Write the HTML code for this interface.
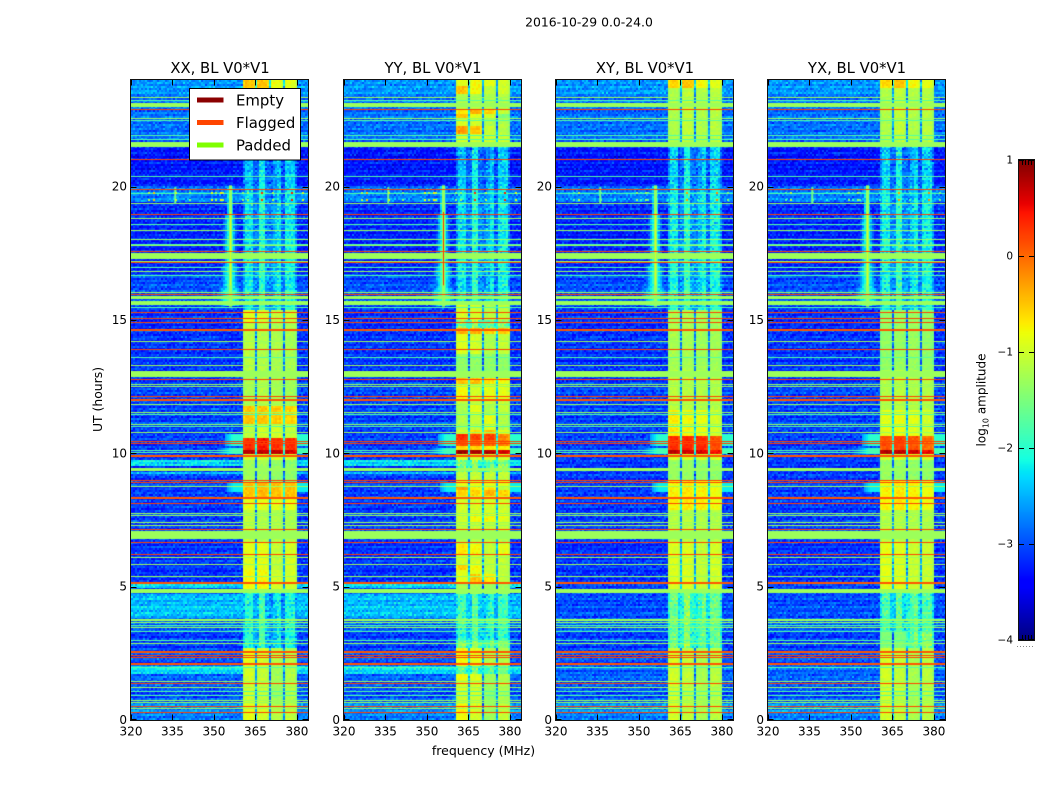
<!DOCTYPE html>
<html lang="en">
<head>
<meta charset="utf-8">
<title>2016-10-29 0.0-24.0</title>
<style>
html,body{margin:0;padding:0;background:#fff;width:1050px;height:800px;overflow:hidden}
#figure{position:relative;width:1050px;height:800px}
canvas{position:absolute;display:block}
svg{position:absolute;left:0;top:0}
text{font-family:"DejaVu Sans","Liberation Sans",sans-serif;fill:#000}
</style>
</head>
<body>
<div id="figure">
<svg id="overlay" width="1050" height="800" viewBox="0 0 1050 800">
  <text x="589" y="26.5" text-anchor="middle" font-size="12.4">2016-10-29 0.0-24.0</text>
  <text x="483.5" y="755" text-anchor="middle" font-size="12.5">frequency (MHz)</text>
  <text transform="translate(102,399.5) rotate(-90)" text-anchor="middle" font-size="12.4">UT (hours)</text>
  <text transform="translate(985.5,400) rotate(-90)" text-anchor="middle" font-size="12">log<tspan font-size="8" dy="3">10</tspan><tspan dy="-3"> amplitude</tspan></text>
  <g id="legend"></g>
</svg>
</div>
<script>
/* ---------- axis labels ---------- */
const panelTitles = ["XX, BL V0*V1", "YY, BL V0*V1", "XY, BL V0*V1", "YX, BL V0*V1"];
const panelLefts = [131, 344, 556, 768];
const freqTicks = [320, 335, 350, 365, 380];
const utTicks = [0, 5, 10, 15, 20];
const colorbarTicks = [1, 0, -1, -2, -3, -4];
const legendLabels = ["Empty", "Flagged", "Padded"];
const legendColors = ["#8b0000", "#ff4500", "#7fff00"];

/* ---------- log10 amplitude readings (hours, hours, level) ---------- */
const flaggedLevel = 0.2;
const paddedLevel = -1.3;
const lightLevel = -1.75;

const paddedBands = [[23.15,22.98],[21.68,21.5],[17.5,17.3],[15.9,15.77],[15.7,15.57],[13.09,12.86],[9.46,9.32],[7.1,6.77],[4.91,4.75],[3.8,3.72]];
const flaggedHours = [22.9,21.03,19.9,18.96,17.57,17.16,15.96,15.29,15.06,14.94,13.91,12.79,12.16,10.47,10.37,9.0,8.92,8.15,7.15,6.66,6.21,5.16,2.44,2.36,1.4,0.52,0.31];
const flaggedThickHours = [14.65,12.04,9.92,8.38,5.16,2.6,2.12];
const paddedThinHours = [23.37,22.56,19.38,18.81,18.36,18.04,17.8,17.22,16.85,16.04,14.22,13.32,12.59,12.52,11.85,11.55,11.1,10.8,8.79,7.78,7.69,7.41,7.33,6.11,5.85,5.4,3.67,3.47,2.87,1.47,1.25,0.75,0.66,0.44];
const lightThinHours = [23.26,22.49,21.93,21.78,20.41,19.75,18.59,17.85,16.97,16.69,15.5,13.6,11.47,11.03,3.56,3.35,3.0,2.0,1.09,0.94];
/* rows that only show outside the bright band */
const outsideBandHours = [10.06,10.14];

const backgroundBands = [[0,0.3,-2.8],[0.3,0.7,-2.7],[0.7,1.5,-3.0],[1.5,1.76,-2.9],[1.76,2.0,-2.9],[2.0,2.7,-3.0],[2.7,3.3,-3.1],[3.3,3.8,-2.9],[3.8,4.75,-3.0],[4.75,5.13,-3.1],[5.13,6.7,-3.15],[6.7,8,-3.1],[8,9.72,-3.1],[9.72,11,-3.1],[11,12.6,-3.05],[12.6,15.5,-3.15],[15.5,16.7,-3.0],[16.7,19.4,-3.2],[19.4,20,-2.75],[20,21.5,-3.3],[21.5,23.4,-2.85],[23.4,24,-2.65]];
/* brighter background rows only seen in the XX and YY panels */
const parallelBands = [[3.8,4.75,-2.45],[4.92,5.13,-2.35],[9.2,9.3,-2.35],[9.52,9.72,-2.25],[1.76,2.0,-2.35]];
const rowSpeckleHours = [19.75,19.5];
const rowSpeckleFreqs = [326,328,336,341,349,350.5,352,353,360,362,367,371,378,382];
const rowSpeckleLevels = [-1.2,-0.5,-1.0,-1.5,-0.8,-1.3,-0.7,-1.1,-1.4,-1.3,0.3,-1.2,0.4,-0.9];

/* four sub-band levels per time segment: start, end, b1, b2, b3, b4 */
const bandXX = [[0,0.6,-0.9,-1.0,-1.2,-1.1],[0.6,2.0,-1.0,-1.1,-1.3,-1.2],[2.0,2.7,-0.9,-1.0,-1.2,-1.2],[2.7,4.9,-2.2,-2.1,-2.3,-2.3],[4.9,5.6,-0.8,-0.8,-1.0,-1.0],[5.6,6.7,-0.9,-0.9,-1.1,-1.0],[6.7,7.9,-1.1,-1.2,-1.2,-1.2],[7.9,8.3,-0.9,-0.9,-0.9,-0.9],[8.3,8.9,-0.5,-0.45,-0.5,-0.5],[8.9,9.72,-1.3,-1.3,-1.4,-1.4],[9.72,9.94,-1.0,-1.0,-1.0,-1.0],[9.94,10.12,0.75,0.7,0.7,0.6],[10.12,10.55,0.3,0.4,0.3,0.3],[10.55,11.1,-1.1,-1.0,-1.0,-1.1],[11.1,11.8,-0.5,-0.5,-0.55,-0.6],[11.8,13.1,-1.25,-1.2,-1.25,-1.3],[13.1,14.9,-1.15,-1.2,-1.25,-1.25],[14.9,15.4,-0.9,-1.0,-1.1,-1.1],[15.4,23.6,-2.35,-2.25,-2.35,-2.35],[23.6,24,-0.5,-0.5,-0.85,-0.9]];
const bandYY = [[0,0.62,-0.8,-1.0,-1.3,-1.1],[0.62,1.52,-1.0,-1.0,-1.4,-1.2],[1.52,1.7,-0.8,-0.9,-1.3,-1.2],[1.7,2.05,-1.8,-1.8,-1.8,-1.8],[2.05,2.7,-0.8,-0.9,-1.2,-1.2],[2.7,3.0,-1.6,-1.6,-1.6,-1.6],[3.0,3.6,-2.1,-2.0,-2.1,-2.1],[3.6,3.8,-1.8,-1.8,-1.9,-1.9],[3.8,4.75,-2.0,-2.0,-2.1,-2.1],[4.75,5.19,-1.3,-1.3,-1.3,-1.3],[5.19,5.44,-0.9,-0.5,-0.7,-1.1],[5.44,5.6,-0.9,-0.9,-1.1,-1.1],[5.6,5.85,-0.6,-0.8,-1.1,-1.1],[5.85,6.25,-1.0,-1.0,-1.1,-1.1],[6.25,6.6,-0.7,-0.8,-1.1,-0.9],[6.6,7.1,-1.2,-1.2,-1.2,-1.2],[7.1,7.45,-1.1,-1.1,-1.1,-1.1],[7.45,7.75,-1.0,-0.8,-0.8,-0.9],[7.75,8.37,-1.0,-1.0,-1.0,-1.0],[8.37,8.65,-0.6,-0.6,-0.4,-0.6],[8.65,8.8,-0.3,-0.7,-0.7,-1.1],[8.8,9.0,-0.9,-0.9,-0.9,-0.9],[9.0,9.3,-1.1,-1.1,-1.1,-1.1],[9.3,9.72,-1.6,-1.6,-1.6,-1.6],[9.72,9.94,-1.0,-1.0,-1.0,-1.0],[9.94,10.12,0.85,0.8,0.75,0.6],[10.12,10.3,-0.6,-0.6,-0.7,-0.7],[10.3,10.47,0.1,0.0,0.0,-0.1],[10.47,10.7,0.3,0.2,0.2,-0.2],[10.7,10.87,-1.0,-0.6,-0.5,-0.9],[10.87,11.47,-1.2,-1.1,-0.9,-1.2],[11.47,11.85,-1.2,-0.9,-1.2,-1.1],[11.85,12,-1.1,-1.1,-1.1,-1.1],[12,12.6,-0.8,-1.0,-0.9,-0.9],[12.6,12.86,-0.5,-0.5,-0.7,-0.8],[12.86,13.75,-1.4,-1.4,-1.4,-1.4],[13.75,14.44,-0.9,-1.0,-1.2,-1.1],[14.44,14.7,-0.4,-0.4,-0.6,-0.5],[14.7,15.0,-1.6,-1.6,-1.6,-1.6],[15.0,15.6,-1.0,-1.0,-1.2,-1.1],[15.6,21.5,-2.35,-2.25,-2.35,-2.35],[21.5,21.94,-1.0,-1.0,-1.0,-1.0],[21.94,22.3,-0.3,-0.5,-1.1,-1.2],[22.3,22.56,-1.0,-1.0,-1.2,-1.2],[22.56,22.75,-0.5,-0.9,-1.0,-1.5],[22.75,22.9,-0.7,-0.4,-0.6,-1.1],[22.9,23.44,-1.2,-1.2,-1.2,-1.2],[23.44,23.8,-0.5,-0.8,-1.1,-1.0],[23.8,24,-0.9,-0.8,-0.9,-1.0]];
const bandXY = [[0,2.7,-1.0,-1.1,-1.25,-1.15],[2.7,4.9,-1.75,-1.65,-1.75,-1.8],[4.9,6.7,-0.95,-0.95,-1.1,-1.0],[6.7,7.9,-1.15,-1.15,-1.2,-1.2],[7.9,9.0,-0.75,-0.7,-0.75,-0.85],[9.0,9.72,-1.35,-1.35,-1.4,-1.4],[9.72,9.94,-1.0,-1.0,-1.0,-1.0],[9.94,10.12,0.7,0.65,0.6,0.45],[10.12,10.65,0.3,0.35,0.3,0.1],[10.65,11.6,-0.7,-0.8,-0.85,-1.0],[11.6,13.1,-1.15,-1.15,-1.2,-1.2],[13.1,15.4,-1.25,-1.25,-1.3,-1.3],[15.4,21.5,-2.25,-2.2,-2.25,-2.3],[21.5,23.7,-1.2,-1.1,-1.2,-1.15],[23.7,24,-0.6,-0.5,-0.8,-0.9]];
const bandYX = [[0,2.7,-1.0,-1.1,-1.25,-1.15],[2.7,3.3,-1.5,-1.5,-1.6,-1.6],[3.3,4.9,-1.95,-1.95,-1.75,-2.0],[4.9,6.7,-0.9,-0.95,-1.05,-1.05],[6.7,7.9,-1.15,-1.15,-1.2,-1.2],[7.9,9.0,-0.75,-0.7,-0.75,-0.85],[9.0,9.72,-1.35,-1.35,-1.4,-1.4],[9.72,9.94,-1.0,-1.0,-1.0,-1.0],[9.94,10.12,0.75,0.7,0.65,0.5],[10.12,10.65,0.1,0.2,0.1,-0.05],[10.65,11.6,-0.9,-0.85,-0.9,-1.0],[11.6,13.1,-1.2,-1.15,-1.2,-1.2],[13.1,15.4,-1.4,-1.35,-1.35,-1.4],[15.4,21.5,-2.25,-2.2,-2.25,-2.3],[21.5,23.7,-1.2,-1.1,-1.2,-1.15],[23.7,24,-0.6,-0.5,-0.8,-0.9]];
const bandTables = [bandXX, bandYY, bandXY, bandYX];

const subBandEdges = [360.3, 365, 370, 375, 380];
const quietStripes = [[360.3,361.5,-0.25],[361.5,364,0.15],[364,366,-0.4],[366,368.8,0.3],[368.8,371,-0.35],[371,372.5,-0.1],[372.5,374,0.15],[374,376,-0.45],[376,379,0.2],[379,380,-0.3]];
/* the band fades during this stretch: start, end, level change */
const quietDimming = [[20.05,21.5,-0.25],[18.0,20.05,-0.08]];

/* narrow-band interference at 355.8 MHz */
const rfiFreq = 355.8;
const rfiStart = 15.5;
const rfiEnd = 20.05;
const rfiPeaks = [-0.95, 0.25, -0.95, -0.95];
const rfiGlow = [[15.5,16.2,4.5],[16.2,17.0,3.2],[17.0,19.0,2.2],[19.0,20.05,1.4]];

/* leakage to the left of the band: start, end, first MHz, level */
const smearBands = [[10.0,10.2,351,-1.9],[10.3,10.7,354,-2.0],[8.55,8.9,355,-2.2]];

/* hand-entered speckle offsets */
const textureA = [0.31,-0.22,0.05,-0.41,0.18,0.44,-0.12,-0.33,0.27,0.02,-0.5,0.36,-0.07,0.14,-0.28,0.49,-0.18,0.09,-0.38,0.22,-0.03,0.4,-0.25,0.12,-0.46,0.29,0.06,-0.15,0.34];
const textureB = [-0.14,0.38,-0.3,0.08,0.25,-0.47,0.17,-0.04,0.42,-0.2,0.11,-0.36,0.3,0.01,-0.26,0.46,-0.09,0.2,-0.42,0.33,-0.17,0.04,0.26,-0.32,0.15,-0.06,0.39,-0.24,0.1,-0.44,0.23];
const rowStripes = [0.12,-0.2,0.3,-0.08,0.18,-0.28,0.05,0.24,-0.15,-0.02,0.34,-0.22,0.09,-0.3,0.2,0.02,-0.12,0.27,-0.25,0.14,-0.05,0.22,-0.18];

/* ---------- axes ---------- */
const plotTop = 80, plotHeight = 640, plotWidth = 177;
const freqMin = 320, freqMax = 384, utMin = 0, utMax = 24;
const levelMin = -4, levelMax = 1;
const cbLeft = 1019, cbWidth = 15, cbTop = 160, cbHeight = 480;
const cellFreq = 0.7232, cellHours = 0.075;

function xScale(f){ return (f - freqMin) / (freqMax - freqMin) * plotWidth; }
function yScale(h){ return (utMax - h) / (utMax - utMin) * plotHeight; }
function cbScale(v){ return cbTop + (levelMax - v) / (levelMax - levelMin) * cbHeight; }

function ramp(t,a,b){ return Math.max(0, Math.min(1, (t - a) / (b - a))); }
function jet(level){
  const t = Math.max(0, Math.min(1, (level - levelMin) / (levelMax - levelMin)));
  const r = t < 0.89 ? ramp(t,0.35,0.66) : 1 - 0.5 * ramp(t,0.89,1);
  const g = t < 0.64 ? ramp(t,0.125,0.375) : 1 - ramp(t,0.64,0.91);
  const b = t < 0.34 ? 0.5 + 0.5 * ramp(t,0,0.11) : 1 - ramp(t,0.34,0.65);
  return "rgb(" + Math.round(r*255) + "," + Math.round(g*255) + "," + Math.round(b*255) + ")";
}

function findSegment(table, h){
  for (const s of table){ if (h >= s[0] && h < s[1]) return s; }
  return null;
}

function cellLevel(panel, f, h, r, c){
  const shift = panel * 17;
  const n = textureA[(c * 3 + r * 5 + shift) % 29] + textureB[(c * r + c * 7 + r + shift) % 31];
  const stripe = rowStripes[r % 23];
  const inBand = f >= subBandEdges[0] && f < subBandEdges[4];
  if (inBand){
    const seg = findSegment(bandTables[panel], h);
    let sub = 0;
    while (sub < 3 && f >= subBandEdges[sub + 1]) sub++;
    const lvl = seg ? seg[2 + sub] : -2.35;
    if (lvl < -1.55){
      let offset = 0;
      for (const q of quietStripes){ if (f >= q[0] && f < q[1]) offset = q[2]; }
      for (const d of quietDimming){ if (h >= d[0] && h < d[1]) offset += d[2]; }
      return lvl + offset + n * 0.5 + stripe * 0.3;
    }
    const gap = Math.min(Math.abs(f - 365), Math.abs(f - 370), Math.abs(f - 375));
    if (gap < 0.37) return Math.min(lvl - 1.5, -2.0) + n * 0.5;
    const edge = Math.min(f - subBandEdges[sub], subBandEdges[sub + 1] - f);
    return lvl + 0.02 - (edge < 1.1 ? 0.2 * (1.1 - edge) : 0) + n * 0.16;
  }
  let level = -3;
  for (const b of backgroundBands){ if (h >= b[0] && h < b[1]) level = b[2]; }
  if (panel < 2){ for (const b of parallelBands){ if (h >= b[0] && h < b[1]) level = b[2]; } }
  level += n * 0.42 + stripe * 0.5;
  for (const s of smearBands){
    if (h >= s[0] && h < s[1] && f >= s[2]){
      const v = s[3] - (f < 357 ? (357 - f) * 0.2 : 0);
      level = Math.max(level, v);
    }
  }
  if (h >= rfiStart && h < rfiEnd){
    for (const g of rfiGlow){
      if (h >= g[0] && h < g[1]){
        const d = Math.abs(f - rfiFreq);
        if (d < g[2]) level = Math.max(level, -1.7 - 1.3 * d / g[2] + n * 0.3);
      }
    }
  }
  return level;
}

function drawRows(ctx, hours, level, thickness){
  ctx.fillStyle = jet(level);
  for (const h of hours){
    ctx.fillRect(xScale(freqMin), Math.round(yScale(h)), plotWidth, thickness);
  }
}

function drawPanel(panel){
  const canvas = document.createElement("canvas");
  
  
  canvas.width = plotWidth;
  canvas.height = plotHeight;
  canvas.style.left = panelLefts[panel] + "px";
  canvas.style.top = plotTop + "px";
  const ctx = canvas.getContext("2d");
  const rows = Math.ceil((utMax - utMin) / cellHours);
  const cols = Math.ceil((freqMax - freqMin) / cellFreq);
  for (let r = 0; r < rows; r++){
    const h = utMin + r * cellHours;
    const yTop = Math.round(yScale(h + cellHours));
    const yBot = Math.round(yScale(h));
    for (let c = 0; c < cols; c++){
      const f = freqMin + c * cellFreq;
      const x0 = Math.round(xScale(f));
      const x1 = Math.round(xScale(f + cellFreq));
      ctx.fillStyle = jet(cellLevel(panel, f + cellFreq / 2, h + cellHours / 2, r, c));
      ctx.fillRect(x0, yTop, x1 - x0, yBot - yTop);
    }
  }
  ctx.fillStyle = jet(paddedLevel);
  for (const b of paddedBands){
    const y0 = Math.round(yScale(b[0]));
    ctx.fillRect(0, y0, plotWidth, Math.round(yScale(b[1])) - y0);
  }
  drawRows(ctx, lightThinHours, lightLevel, 1);
  drawRows(ctx, paddedThinHours, paddedLevel, 1);
  ctx.fillStyle = jet(lightLevel);
  for (const h of outsideBandHours){
    const y = Math.round(yScale(h));
    ctx.fillRect(0, y, xScale(subBandEdges[0]), 1);
    ctx.fillRect(xScale(subBandEdges[4]), y, plotWidth - xScale(subBandEdges[4]), 1);
  }
  /* short interference mark and speckle on the 19.5-19.75 h rows */
  ctx.fillStyle = jet(-1.6);
  ctx.fillRect(xScale(336) - 1, yScale(19.98), 2, yScale(19.36) - yScale(19.98));
  for (const h of rowSpeckleHours){
    rowSpeckleFreqs.forEach(function(f, i){
      ctx.fillStyle = jet(rowSpeckleLevels[i] - (panel > 1 ? 0.6 : 0));
      ctx.fillRect(Math.round(xScale(f)), Math.round(yScale(h)) - 1, 2, 2);
    });
  }
  /* interference core */
  ctx.fillStyle = jet(-1.35);
  ctx.fillRect(Math.round(xScale(rfiFreq)) - 1, yScale(rfiEnd), 3, yScale(rfiStart) - yScale(rfiEnd));
  ctx.fillStyle = jet(rfiPeaks[panel]);
  ctx.fillRect(Math.round(xScale(rfiFreq)), yScale(rfiEnd - 1.0), 1, yScale(rfiStart + 0.8) - yScale(rfiEnd - 1.0));
  drawRows(ctx, flaggedHours, flaggedLevel, 1);
  drawRows(ctx, flaggedThickHours, flaggedLevel - 0.1, 2);
  document.getElementById("figure").insertBefore(canvas, document.getElementById("overlay"));
}

const NS = "http://www.w3.org/2000/svg";
const overlay = document.getElementById("overlay");
function svgEl(tag, attrs, parent){
  const el = document.createElementNS(NS, tag);
  for (const k in attrs) el.setAttribute(k, attrs[k]);
  (parent || overlay).appendChild(el);
  return el;
}

function drawAxes(panel){
  const left = panelLefts[panel];
  const g = svgEl("g", {});
  
  
  const frame = svgEl("rect", {x:left - 0.5, y:plotTop - 0.5, width:plotWidth + 1, height:plotHeight + 1, fill:"none", stroke:"#111", "stroke-width":1}, g);
  
  
  const title = svgEl("text", {x:left + plotWidth / 2 + 0.5, y:73, "text-anchor":"middle", "font-size":14.8}, g);
  title.textContent = panelTitles[panel];
  
  
  for (const f of freqTicks){
    const x = Math.round(left + xScale(f)) + 0.5;
    const bottom = svgEl("path", {d:"M" + x + " " + (plotTop + plotHeight) + "v-5.5M" + x + " " + plotTop + "v5.5", stroke:"#000", "stroke-width":1}, g);
    
    
    const label = svgEl("text", {x:left + xScale(f), y:735.5, "text-anchor":"middle", "font-size":12}, g);
    label.textContent = f;
    
    
  }
  for (const h of utTicks){
    const y = Math.round(plotTop + yScale(h)) + (h === 0 ? -0.5 : 0.5);
    const tick = svgEl("path", {d:"M" + left + " " + y + "h5.5M" + (left + plotWidth) + " " + y + "h-5.5", stroke:"#000", "stroke-width":1}, g);
    
    
    const label = svgEl("text", {x:left - 4, y:plotTop + yScale(h) + 4, "text-anchor":"end", "font-size":12}, g);
    label.textContent = h;
    
    
  }
}

function drawColorbar(){
  const canvas = document.createElement("canvas");
  
  
  canvas.width = cbWidth;
  canvas.height = cbHeight;
  canvas.style.left = cbLeft + "px";
  canvas.style.top = cbTop + "px";
  const ctx = canvas.getContext("2d");
  for (let y = 0; y < cbHeight; y++){
    ctx.fillStyle = jet(levelMax - (y + 0.5) / cbHeight * (levelMax - levelMin));
    ctx.fillRect(0, y, cbWidth, 1);
  }
  document.getElementById("figure").insertBefore(canvas, overlay);
  const g = svgEl("g", {});
  
  
  svgEl("rect", {x:cbLeft - 0.5, y:cbTop - 0.5, width:cbWidth + 1, height:cbHeight + 1, fill:"none", stroke:"#111", "stroke-width":1}, g);
  for (const v of colorbarTicks){
    const y = cbScale(v);
    const yy = Math.round(y) + (v === levelMin ? -0.5 : 0.5);
    const tick = svgEl("path", {d:"M" + cbLeft + " " + yy + "h5M" + (cbLeft + cbWidth) + " " + yy + "h-5", stroke:"#000", "stroke-width":1}, g);
    
    
    const label = svgEl("text", {x:cbLeft - 6, y:y + 3.5, "text-anchor":"end", "font-size":10.5}, g);
    label.textContent = v < 0 ? "\u2212" + Math.abs(v) : String(v);
    
    
  }
  svgEl("path", {d:"M1022.5 160v5M1025.5 160v5M1028.5 160v5M1031.5 160v5M1022.5 640v-5M1025.5 640v-5M1028.5 640v-5M1031.5 640v-5", stroke:"#000", "stroke-width":1}, g);
  svgEl("path", {d:"M1017 646.5h18", stroke:"#888", "stroke-width":1, "stroke-dasharray":"1 2"}, g);
}

function drawLegend(){
  const g = document.getElementById("legend");
  overlay.appendChild(g);
  svgEl("rect", {x:189.5, y:88.5, width:111, height:71.5, fill:"#fff", stroke:"#000", "stroke-width":1}, g);
  legendLabels.forEach(function(name, i){
    const y = 100 + i * 22.5;
    const line = svgEl("line", {x1:197, x2:223.5, y1:y, y2:y, stroke:legendColors[i], "stroke-width":5}, g);
    
    
    const text = svgEl("text", {x:236, y:y + 5.5, "font-size":14.9}, g);
    text.textContent = name;
    
    
  });
}

panelTitles.forEach(function(_, i){ drawPanel(i); drawAxes(i); });
drawColorbar();
drawLegend();
</script>
</body>
</html>
